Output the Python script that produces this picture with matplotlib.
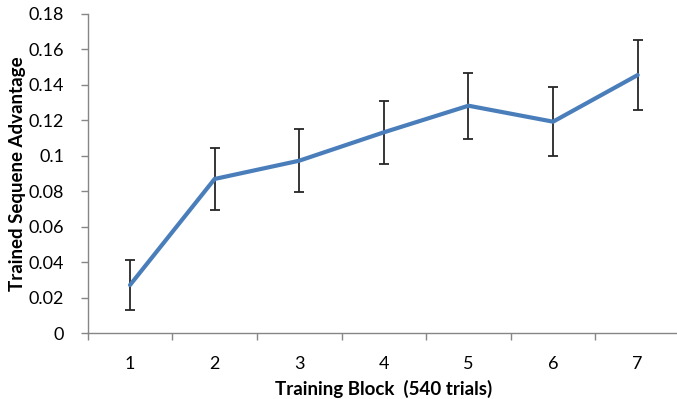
import matplotlib.pyplot as plt
import numpy as np

blocks = [1, 2, 3, 4, 5, 6, 7]
advantage = [0.0272, 0.0870, 0.0973, 0.1133, 0.1283, 0.1193, 0.1456]
err = [0.0141, 0.0173, 0.0178, 0.0178, 0.0187, 0.0194, 0.0200]
yticks = [0, 0.02, 0.04, 0.06, 0.08, 0.1, 0.12, 0.14, 0.16, 0.18]
ytick_labels = ['0', '0.02', '0.04', '0.06', '0.08', '0.1', '0.12', '0.14', '0.16', '0.18']

plt.rcParams['font.family'] = ['Lato', 'DejaVu Sans']

W, H = 677, 399
fig = plt.figure(figsize=(W / 100, H / 100), dpi=100)
# axes box in pixels: left 87.7, right 680, top 14, bottom 333.3
ax = fig.add_axes([87.7 / W, (H - 333.3) / H, (680 - 87.7) / W, (333.3 - 14) / H])

grey = '#868686'
ax.errorbar(blocks, advantage, yerr=err, fmt='none', ecolor='#262626',
            elinewidth=1.3, capsize=3.4, capthick=1.3, zorder=2)
ax.plot(blocks, advantage, color='#4A7EBB', lw=3.0, solid_capstyle='round',
        solid_joinstyle='miter', zorder=3)

ax.set_xlim(0.5, 7.5)
ax.set_ylim(0, 0.18)
ax.set_yticks(yticks)
ax.set_yticklabels(ytick_labels)
ax.set_xticks(blocks)
ax.set_xticks(np.arange(0.5, 8, 1.0), minor=True)

for s in ['top', 'right']:
    ax.spines[s].set_visible(False)
for s in ['left', 'bottom']:
    ax.spines[s].set_color(grey)
    ax.spines[s].set_linewidth(1.0)

ax.tick_params(axis='y', direction='out', length=5, width=1, color=grey,
               labelsize=13, pad=12, labelcolor='black')
ax.tick_params(axis='x', which='major', length=0, labelsize=13, pad=16)
ax.tick_params(axis='x', which='minor', direction='out', length=5, width=1, color=grey)

ax.set_ylabel('Trained Sequene Advantage', fontsize=13.5, fontweight='bold', va='center')
ax.set_xlabel('Training Block  (540 trials)', fontsize=13.5, fontweight='bold', va='center')
ax.yaxis.set_label_coords(-(87.7 - 17) / (680 - 87.7), 0.5)
ax.xaxis.set_label_coords((384 - 87.7) / (680 - 87.7), -(389 - 333.3) / (333.3 - 14))

fig.savefig('out.png', dpi=100)
